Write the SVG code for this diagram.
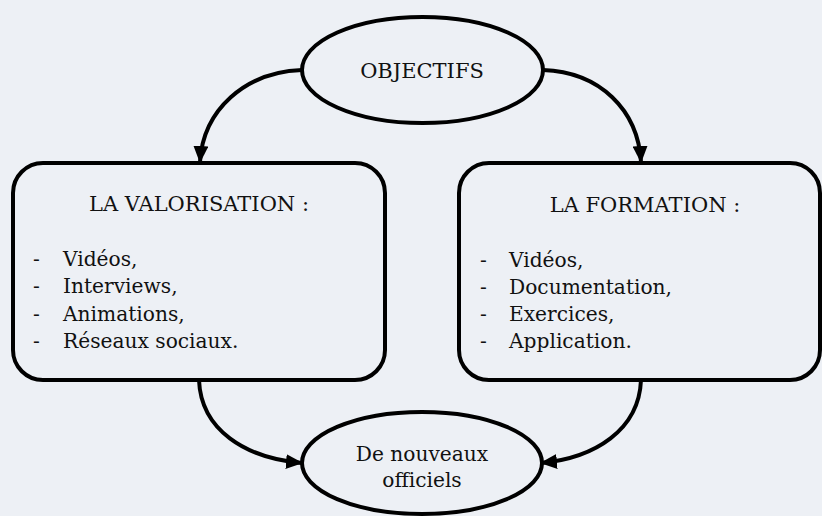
<svg xmlns="http://www.w3.org/2000/svg" width="822" height="516" viewBox="0 0 822 516">
<defs>
<style>
.shape{fill:#EDF0F5;stroke:#000;stroke-width:4}
.conn{fill:none;stroke:#000;stroke-width:4}
.t{font-family:'DejaVu Serif','Liberation Serif',serif;font-size:20.2px;fill:#111}
.h{font-size:21px}
.c{text-anchor:middle}
</style>
<marker id="arr" viewBox="0 0 17 15" refX="16" refY="7.5" markerWidth="17" markerHeight="15" markerUnits="userSpaceOnUse" orient="auto">
<path d="M0,0 L17,7.5 L0,15 Z" fill="#000"/>
</marker>
</defs>
<rect width="822" height="516" fill="#EDF0F5"/>
<g id="connectors">
<path class="conn" d="M302,70 C245,72 203,110 200,162" marker-end="url(#arr)"/>
<path class="conn" d="M543,70 C600,72 638,110 641,162" marker-end="url(#arr)"/>
<path class="conn" d="M199,380 C201,430 245,458 302,463" marker-end="url(#arr)"/>
<path class="conn" d="M641,380 C639,430 595,458 541,463" marker-end="url(#arr)"/>
</g>
<g id="objectifs" class="t">
<ellipse class="shape" cx="422.5" cy="70" rx="120.5" ry="53"/>
<text class="c h" x="422" y="78">OBJECTIFS</text>
</g>
<g id="valorisation" class="t">
<rect class="shape" x="13" y="163" width="372" height="217" rx="30" ry="30"/>
<text class="c h" x="199" y="211">LA VALORISATION :</text>
<text x="33" y="266">-</text><text x="63" y="266">Vidéos,</text>
<text x="33" y="293">-</text><text x="63" y="293">Interviews,</text>
<text x="33" y="321">-</text><text x="63" y="321">Animations,</text>
<text x="33" y="348">-</text><text x="63" y="348">Réseaux sociaux.</text>
</g>
<g id="formation" class="t">
<rect class="shape" x="459" y="163" width="361" height="217" rx="30" ry="30"/>
<text class="c h" x="645" y="212">LA FORMATION :</text>
<text x="480" y="267">-</text><text x="509" y="267">Vidéos,</text>
<text x="480" y="294">-</text><text x="509" y="294">Documentation,</text>
<text x="480" y="321">-</text><text x="509" y="321">Exercices,</text>
<text x="480" y="348">-</text><text x="509" y="348">Application.</text>
</g>
<g id="officiels" class="t">
<ellipse class="shape" cx="422" cy="463" rx="120" ry="51"/>
<text class="c" x="422" y="461">De nouveaux</text>
<text class="c" x="422" y="487">officiels</text>
</g>
</svg>
